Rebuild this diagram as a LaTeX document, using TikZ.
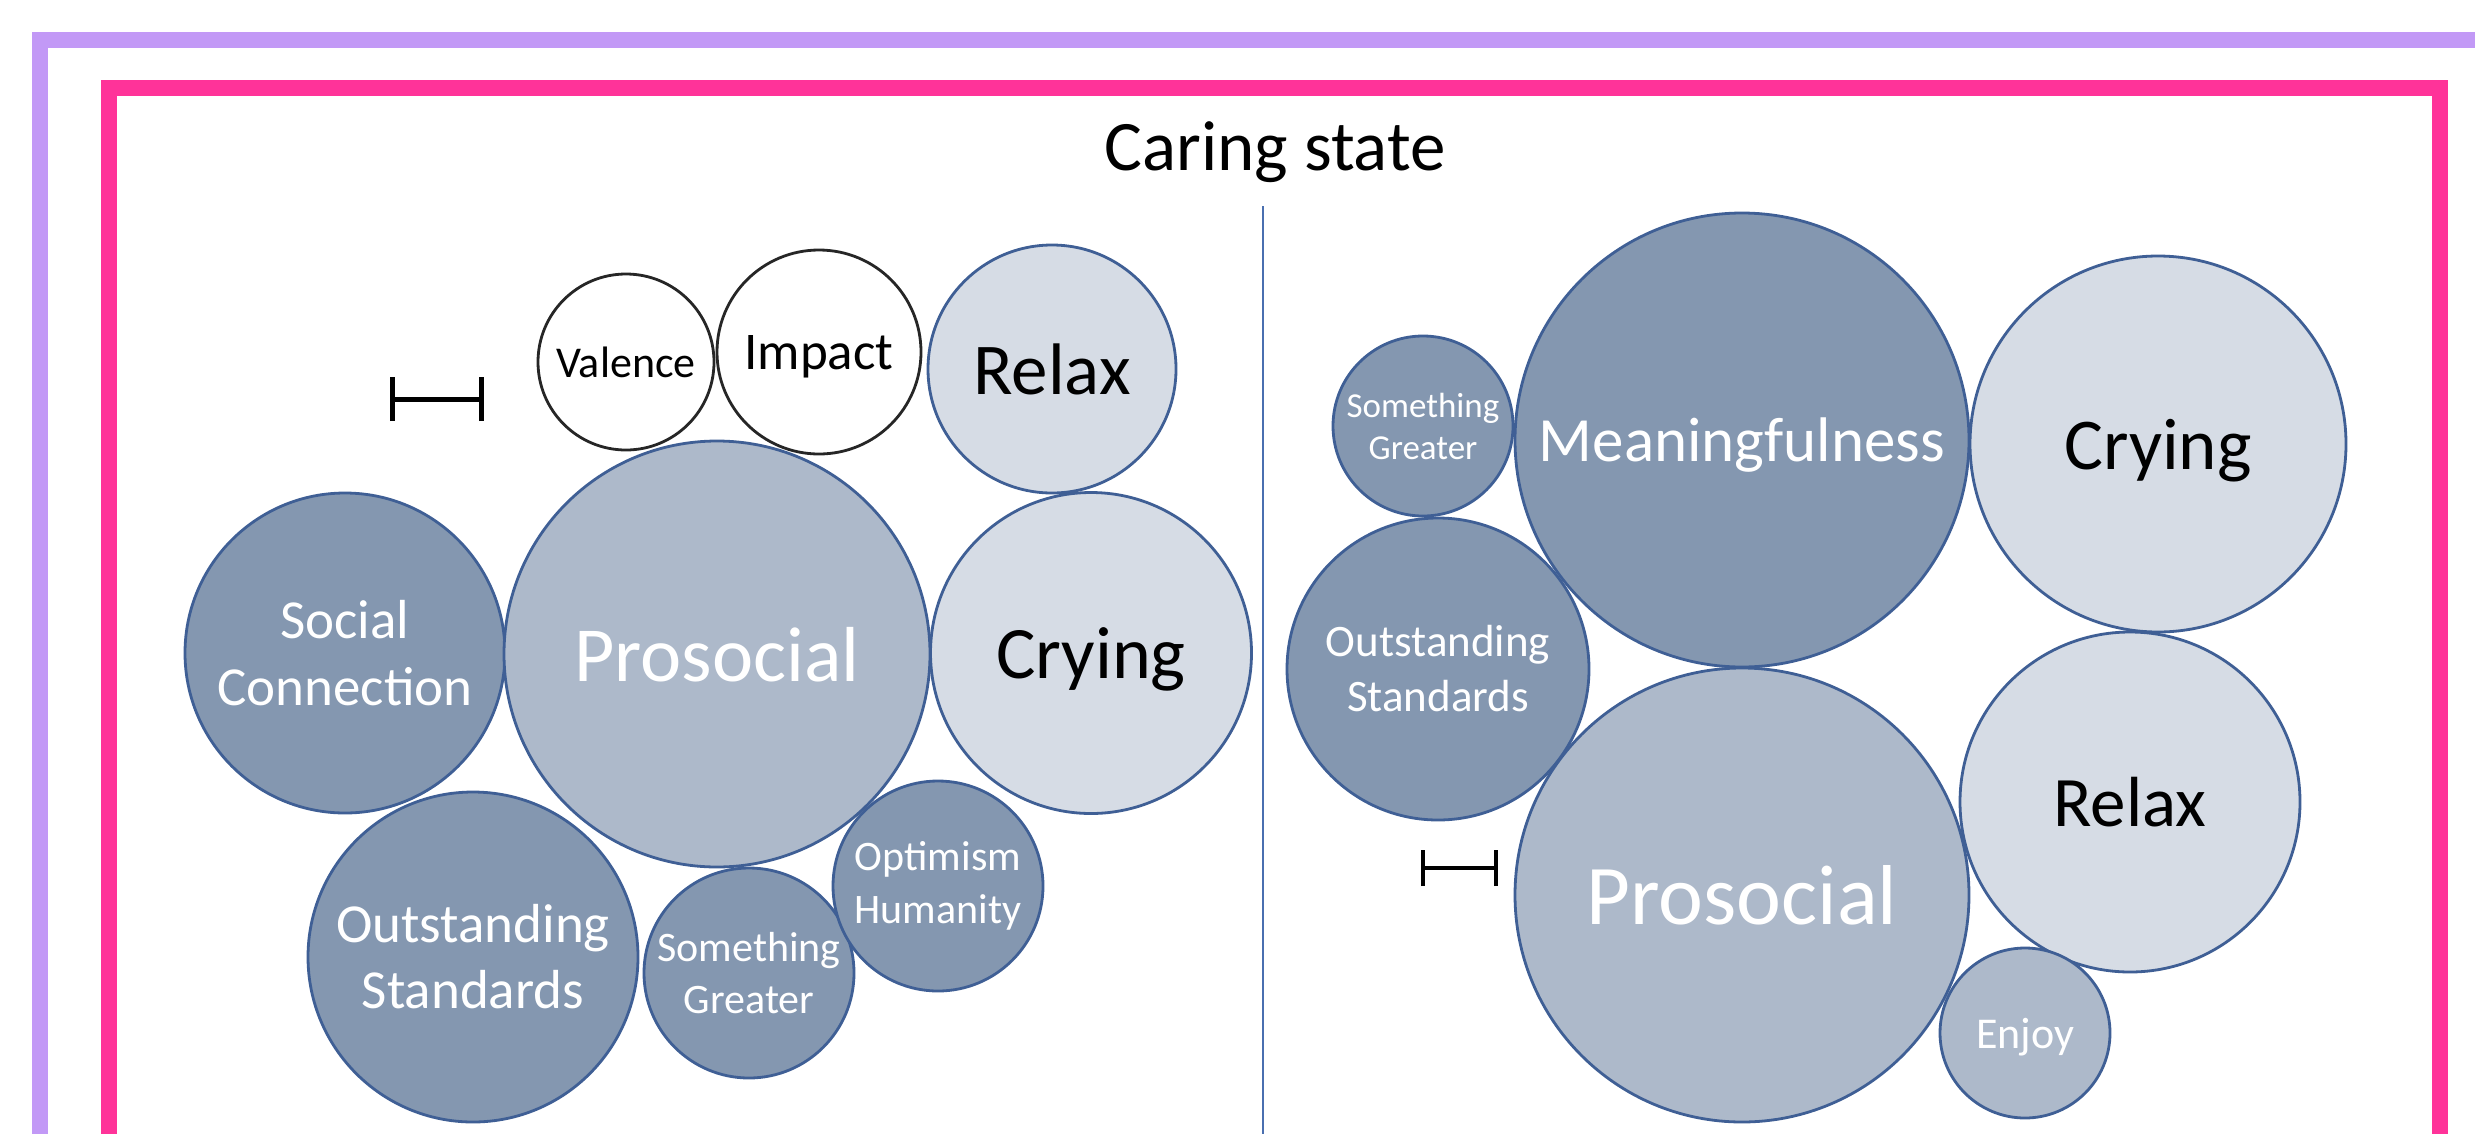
\documentclass[tikz,border=0pt]{standalone}
\usepackage{fontspec}
\setmainfont{Carlito}
\definecolor{darkb}{HTML}{8497B0}
\definecolor{medb}{HTML}{ADB9CA}
\definecolor{lightb}{HTML}{D6DCE5}
\definecolor{edgeb}{HTML}{3F5F95}
\definecolor{pinkf}{HTML}{FF3399}
\definecolor{purplef}{HTML}{C299F6}
\definecolor{divb}{HTML}{4A6FB0}
\newcommand\bfsz[2]{\fontsize{#1pt}{#2pt}\selectfont}
\tikzset{
  bub/.style={circle, inner sep=0pt, draw=edgeb, line width=2.8pt, align=center},
  dk/.style={bub, fill=darkb, text=white},
  md/.style={bub, fill=medb, text=white},
  lt/.style={bub, fill=lightb, text=black},
  wh/.style={circle, inner sep=0pt, draw=black!85, line width=2.8pt, fill=white, text=black},
  one/.style={text depth=0pt},
  frameline/.style={line width=16pt},
  rulerline/.style={line width=5pt, black},
  divline/.style={line width=2pt, divb},
}
\begin{document}
\begin{tikzpicture}[x=1pt,y=-1pt]
\useasboundingbox (0,0) rectangle (2475,1133);
\clip (0,0) rectangle (2475,1133);
\fill[white] (0,0) rectangle (2475,1133);
% frames
\draw[frameline, purplef] (40,40) rectangle (2560,1220);
\draw[frameline, pinkf] (109,88) rectangle (2440,1220);
% title
\node[anchor=base, font=\bfsz{71}{86}] (title) at (1275,170) {Caring state};
% divider
\coordinate (dtop) at (1263,206);
\coordinate (dbot) at (1263,1140);
\draw[divline] (dtop) -- (dbot);
% left panel
\node[wh, one, minimum size=176pt, font=\bfsz{44}{54}] (val) at (626,362) {Valence};
\node[wh, one, minimum size=204pt, font=\bfsz{53}{64}] (imp) at (819,352) {Impact};
\node[lt, one, minimum size=248pt, font=\bfsz{73}{88}] (relL) at (1052,369) {Relax};
\node[dk, minimum size=320pt, font=\bfsz{55}{67}] (socL) at (345,653) {Social\\Connection};
\node[md, one, minimum size=426pt, font=\bfsz{78}{94}] (proL) at (717,654) {Prosocial};
\node[lt, one, minimum size=321pt, font=\bfsz{74}{90}] (cryL) at (1091,653) {Crying};
\node[dk, minimum size=330pt, font=\bfsz{55}{66}] (outL) at (473,957) {Outstanding\\Standards};
\node[dk, minimum size=210pt, font=\bfsz{42}{52}] (smgL) at (749,973) {Something\\Greater};
\node[dk, minimum size=210pt, font=\bfsz{42}{53}] (optL) at (938,886) {Optimism\\Humanity};
% left ruler
\coordinate (lra) at (392,399);
\coordinate (lrb) at (481,399);
\draw[rulerline] (lra) -- (lrb);
\draw[rulerline] ([yshift=-22pt]lra) -- ([yshift=22pt]lra);
\draw[rulerline] ([yshift=-22pt]lrb) -- ([yshift=22pt]lrb);
% right panel
\node[dk, minimum size=180pt, font=\bfsz{35}{42}] (smgR) at (1423,426) {Something\\Greater};
\node[dk, one, minimum size=454pt, font=\bfsz{63}{76}] (mng) at (1742,440) {Meaningfulness};
\node[lt, one, minimum size=376pt, font=\bfsz{73}{88}] (cryR) at (2158,444) {Crying};
\node[dk, minimum size=302pt, font=\bfsz{45}{55}] (outR) at (1438,669) {Outstanding\\Standards};
\node[md, one, minimum size=454pt, font=\bfsz{85}{102}] (proR) at (1742,895) {Prosocial};
\node[lt, one, minimum size=340pt, font=\bfsz{71}{86}] (relR) at (2130,802) {Relax};
\node[md, one, minimum size=170pt, font=\bfsz{44}{54}] (enj) at (2025,1033) {Enjoy};
% right ruler
\coordinate (rra) at (1423,868);
\coordinate (rrb) at (1496,868);
\draw[rulerline, line width=4pt] (rra) -- (rrb);
\draw[rulerline, line width=4pt] ([yshift=-18pt]rra) -- ([yshift=18pt]rra);
\draw[rulerline, line width=4pt] ([yshift=-18pt]rrb) -- ([yshift=18pt]rrb);
\end{tikzpicture}
\end{document}
